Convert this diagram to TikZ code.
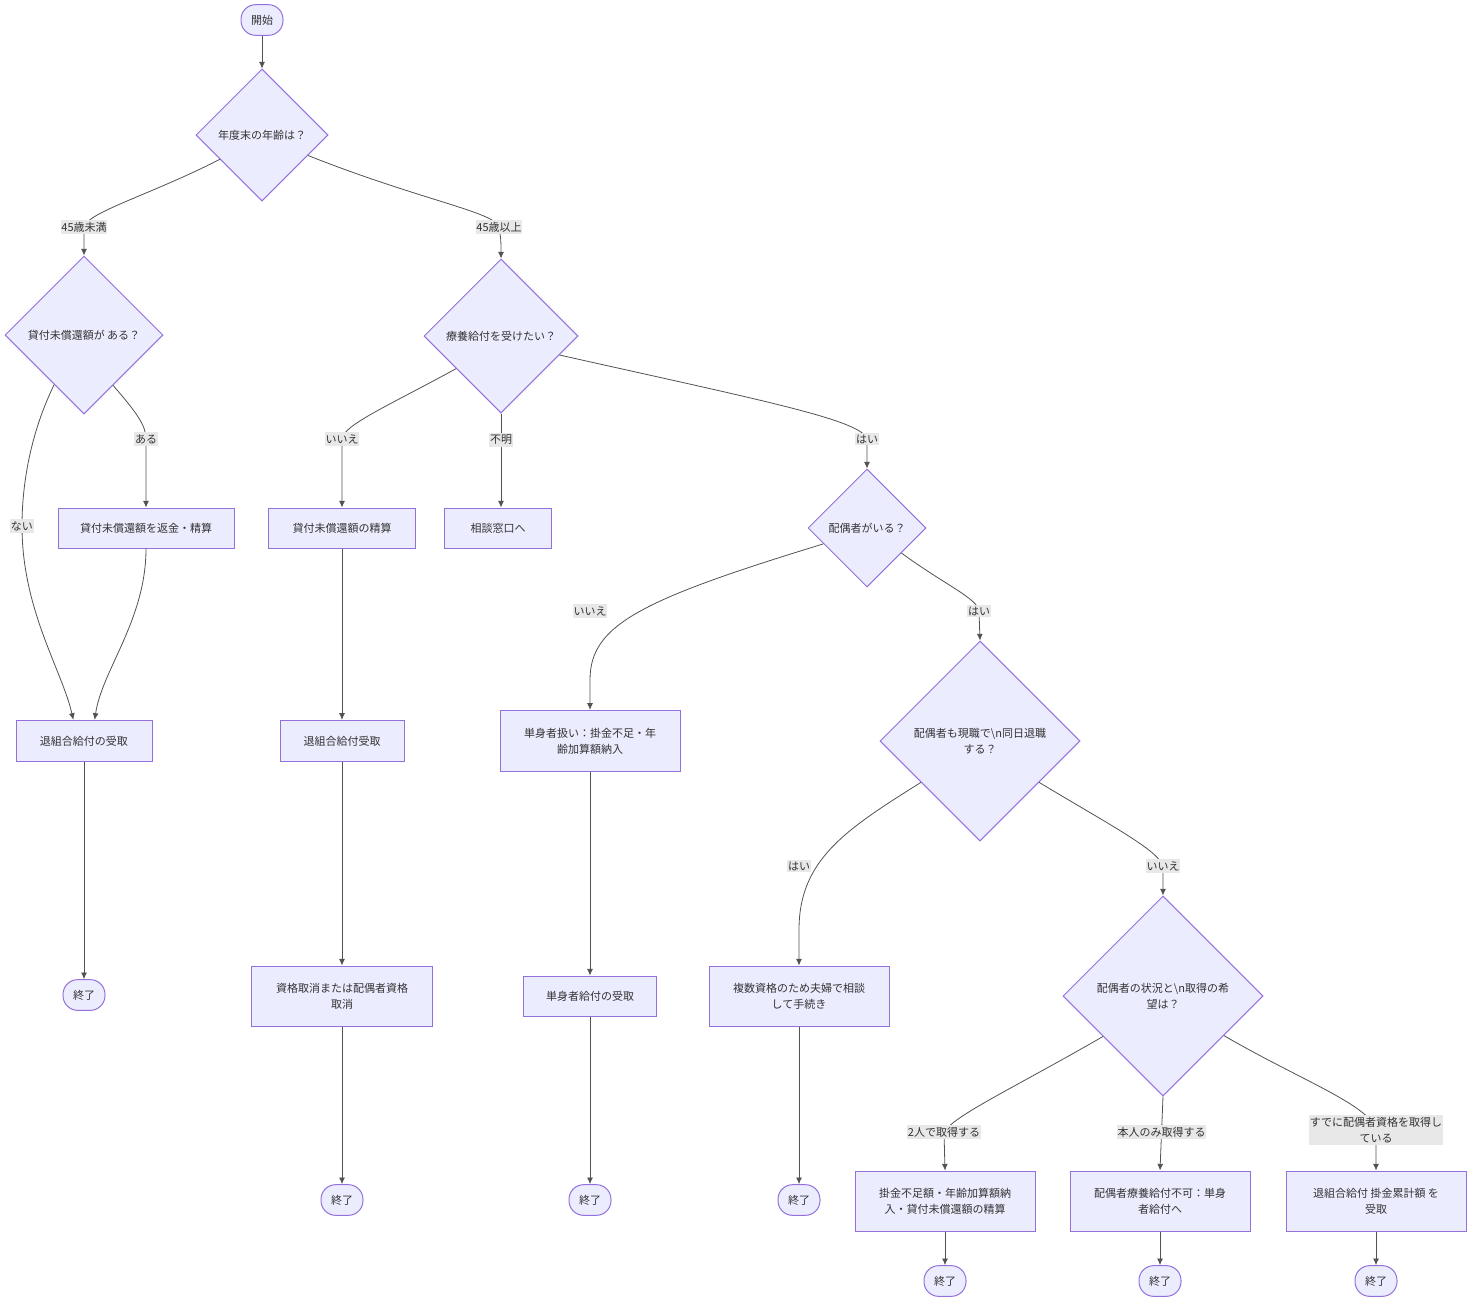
\documentclass[tikz,border=0pt]{standalone}
\usepackage{fontspec}
\setmainfont{Noto Sans CJK JP}
\usetikzlibrary{shapes.geometric,arrows.meta}
\definecolor{nodefill}{HTML}{ECECFF}
\definecolor{nodeline}{HTML}{9370DB}
\definecolor{edgeline}{HTML}{333333}
\definecolor{labelfill}{HTML}{E8E8E8}
\tikzset{
  flowbox/.style={draw=nodeline,fill=nodefill,line width=0.75pt,text=edgeline,align=center,inner sep=0pt},
  decision/.style={diamond,aspect=1,draw=nodeline,fill=nodefill,line width=0.75pt,text=edgeline,align=center,inner sep=0pt},
  terminal/.style={flowbox,rounded corners=11pt,minimum width=31.5pt,minimum height=23pt},
  elabel/.style={fill=labelfill,text=edgeline,inner xsep=0.5pt,inner ysep=1.5pt,align=center},
  edge/.style={draw=edgeline!85,line width=0.6pt,-{Latex[length=5pt,width=4.5pt]}}
}
\begin{document}
\begin{tikzpicture}[x=0.75pt,y=-0.75pt,font=\fontsize{8.25}{12}\selectfont]
        \useasboundingbox (0,0) rectangle (1472,1303);
        \node[terminal] (start) at (262,20) {開始};
        \node[decision,minimum size=99pt] (age) at (262,135) {年度末の年齢は？};
        \node[decision,minimum size=118.5pt] (loan) at (84,335) {貸付未償還額が ある？};
        \node[decision,minimum size=115.5pt] (care) at (501,336) {療養給付を受けたい？};
        \node[flowbox,minimum width=132pt,minimum height=30pt] (repay) at (146,528) {貸付未償還額を返金・精算};
        \node[flowbox,minimum width=110pt,minimum height=30pt] (settle) at (342,528) {貸付未償還額の精算};
        \node[flowbox,minimum width=80pt,minimum height=30pt] (consult) at (498,528) {相談窓口へ};
        \node[decision,minimum size=88.5pt] (spouse) at (867,528) {配偶者がいる？};
        \node[flowbox,minimum width=102pt,minimum height=31pt] (rcvA) at (84,741) {退組合給付の受取};
        \node[flowbox,minimum width=93pt,minimum height=31pt] (rcvB) at (342,741) {退組合給付受取};
        \node[flowbox,minimum width=135pt,minimum height=46pt] (single) at (590,741) {単身者扱い：掛金不足・年\\齢加算額納入};
        \node[decision,minimum size=150pt] (sameday) at (980,741) {配偶者も現職で\textbackslash n同日退職\\する？};
        \node[terminal] (endA) at (84,995) {終了};
        \node[flowbox,minimum width=136pt,minimum height=45pt] (cancel) at (342,996) {資格取消または配偶者資格\\取消};
        \node[flowbox,minimum width=100pt,minimum height=30pt] (singleRcv) at (590,996) {単身者給付の受取};
        \node[flowbox,minimum width=135pt,minimum height=45pt] (couple) at (799,996) {複数資格のため夫婦で相談\\して手続き};
        \node[decision,minimum size=150pt] (status) at (1163,996) {配偶者の状況と\textbackslash n取得の希\\望は？};
        \node[terminal] (endB) at (342,1200) {終了};
        \node[terminal] (endC) at (590,1200) {終了};
        \node[terminal] (endD) at (799,1200) {終了};
        \node[flowbox,minimum width=135pt,minimum height=45pt] (both) at (945,1201) {掛金不足額・年齢加算額納\\入・貸付未償還額の精算};
        \node[flowbox,minimum width=135pt,minimum height=45pt] (selfOnly) at (1160,1201) {配偶者療養給付不可：単身\\者給付へ};
        \node[flowbox,minimum width=135pt,minimum height=45pt] (already) at (1376,1201) {退組合給付 掛金累計額 を\\受取};
        \node[terminal] (endE) at (945,1281) {終了};
        \node[terminal] (endF) at (1160,1281) {終了};
        \node[terminal] (endG) at (1376,1281) {終了};

        \draw[edge] (start) -- (age);
        \draw[edge] (age.210) .. controls (150,195) and (88,212) .. (84,227) node[elabel]{45歳未満} -- (loan.north);
        \draw[edge] (age.336) .. controls (420,200) and (495,212) .. (499,227) node[elabel]{45歳以上} .. controls (501,240) .. (care.north);
        \draw[edge] (loan.239) .. controls (32,430) and (22,480) .. (22,526) node[elabel]{ない} .. controls (22,610) and (62,670) .. ([xshift=-8pt]rcvA.north);
        \draw[edge] (loan.300) .. controls (136,412) and (146,425) .. (146,439) node[elabel]{ある} -- (repay.north);
        \draw[edge] (repay.south) .. controls (146,620) and (102,670) .. ([xshift=8pt]rcvA.north);
        \draw[edge] (rcvA) -- (endA);
        \draw[edge] (care.216) .. controls (390,405) and (343,425) .. (342,439) node[elabel]{いいえ} -- (settle.north);
        \draw[edge] (care.south) -- (care.south |- consult.north) node[elabel,pos=0.28]{不明};
        \draw[edge] (care.342) .. controls (760,400) and (862,420) .. (867,439) node[elabel]{はい} -- (spouse.north);
        \draw[edge] (settle) -- (rcvB);
        \draw[edge] (rcvB) -- (cancel);
        \draw[edge] (cancel) -- (endB);
        \draw[edge] (spouse.200) .. controls (640,600) and (590,625) .. (590,680) -- (single.north) node[elabel] at (590,611) {いいえ};
        \draw[edge] (spouse.324) .. controls (945,585) and (977,598) .. (979,611) node[elabel]{はい} -- (sameday.north);
        \draw[edge] (single) -- (singleRcv);
        \draw[edge] (singleRcv) -- (endC);
        \draw[edge] (sameday.215) .. controls (845,830) and (799,860) .. (799,930) -- (couple.north) node[elabel] at (799,866) {はい};
        \draw[edge] (sameday.325) .. controls (1110,825) and (1158,850) .. (1163,866) node[elabel]{いいえ} -- (status.north);
        \draw[edge] (couple) -- (endD);
        \draw[edge] (status.214) .. controls (1010,1090) and (955,1115) .. (944,1132) node[elabel]{2人で取得する} -- (both.north);
        \draw[edge] (status.south) -- (selfOnly.north) node[elabel,pos=0.48]{本人のみ取得する};
        \draw[edge] (status.327) .. controls (1300,1080) and (1370,1105) .. (1376,1130) node[elabel]{すでに配偶者資格を取得し\\ている} -- (already.north);
        \draw[edge] (both) -- (endE);
        \draw[edge] (selfOnly) -- (endF);
        \draw[edge] (already) -- (endG);
      \end{tikzpicture}
\end{document}
